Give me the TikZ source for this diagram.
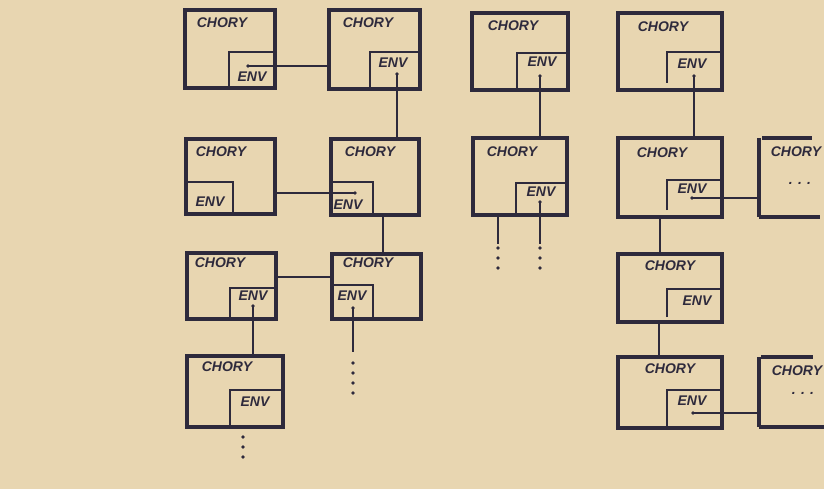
\documentclass[tikz,border=0pt]{standalone}
\usepackage{fontspec}
\setmainfont{Liberation Sans}
\definecolor{bg}{RGB}{232,214,177}
\definecolor{ink}{RGB}{46,42,60}
\begin{document}
\begin{tikzpicture}[x=1pt,y=-1pt,
  box/.style={draw=ink, line width=3.2pt, inner sep=0pt, outer sep=0pt, anchor=north west},
  ghost/.style={inner sep=0pt, outer sep=0pt, anchor=north west},
  envl/.style={draw=ink, line width=2.6pt},
  conn/.style={draw=ink, line width=1.6pt},
  edge/.style={draw=ink, line width=3.2pt},
  lab/.style={text=ink, font=\fontsize{14}{14}\selectfont\bfseries\itshape, inner sep=0pt},
  blob/.style={fill=ink, draw=none, circle, minimum size=3.6pt, inner sep=0pt}]
\fill[bg] (0,0) rectangle (824,489);
\useasboundingbox (0,0) rectangle (824,489);

% ---- column 1 / 2 ----
\node[box, minimum width=90pt, minimum height=78pt] (A1) at (185,10) {};
\draw[envl] (229,88) |- (275,52);
\node[lab] (A1c) at (222,23) {CHORY};
\node[lab] (A1v) at (252,77) {ENV};
\node[blob] (A1d) at (248,66) {};

\node[box, minimum width=91pt, minimum height=79pt] (A2) at (329,10) {};
\draw[envl] (370,89) |- (420,52);
\node[lab] (A2c) at (368,23) {CHORY};
\node[lab] (A2v) at (393,63) {ENV};
\node[blob] (A2d) at (397,74) {};

\node[box, minimum width=89pt, minimum height=75pt] (B1) at (186,139) {};
\draw[envl] (186,182) -| (233,214);
\node[lab] (B1c) at (221,152) {CHORY};
\node[lab] (B1v) at (210,202) {ENV};

\node[box, minimum width=88pt, minimum height=76pt] (B2) at (331,139) {};
\draw[envl] (331,182) -| (373,215);
\node[lab] (B2c) at (370,152) {CHORY};
\node[lab] (B2v) at (348,205) {ENV};
\node[blob] (B2d) at (355,193) {};

\node[box, minimum width=89pt, minimum height=66pt] (C1) at (187,253) {};
\draw[envl] (230,319) |- (276,288);
\node[lab] (C1c) at (220,263) {CHORY};
\node[lab] (C1v) at (253,296) {ENV};
\node[blob] (C1d) at (253,306) {};

\node[box, minimum width=89pt, minimum height=65pt] (C2) at (332,254) {};
\draw[envl] (332,285) -| (373,319);
\node[lab] (C2c) at (368,263) {CHORY};
\node[lab] (C2v) at (352,296) {ENV};
\node[blob] (C2d) at (353,308) {};

\node[box, minimum width=96pt, minimum height=71pt] (D1) at (187,356) {};
\draw[envl] (230,427) |- (283,390);
\node[lab] (D1c) at (227,367) {CHORY};
\node[lab] (D1v) at (255,402) {ENV};

% ---- column 3 ----
\node[box, minimum width=96pt, minimum height=77pt] (E1) at (472,13) {};
\draw[envl] (517,90) |- (568,53);
\node[lab] (E1c) at (513,26) {CHORY};
\node[lab] (E1v) at (542,62) {ENV};
\node[blob] (E1d) at (540,76) {};

\node[box, minimum width=94pt, minimum height=77pt] (E2) at (473,138) {};
\draw[envl] (516,215) |- (567,183);
\node[lab] (E2c) at (512,152) {CHORY};
\node[lab] (E2v) at (541,192) {ENV};
\node[blob] (E2d) at (540,202) {};

% ---- column 4 ----
\node[box, minimum width=104pt, minimum height=77pt] (F1) at (618,13) {};
\draw[envl] (667,83) |- (722,52);
\node[lab] (F1c) at (663,27) {CHORY};
\node[lab] (F1v) at (692,64) {ENV};
\node[blob] (F1d) at (694,76) {};

\node[box, minimum width=104pt, minimum height=79pt] (F2) at (618,138) {};
\draw[envl] (667,210) |- (722,180);
\node[lab] (F2c) at (662,153) {CHORY};
\node[lab] (F2v) at (692,189) {ENV};
\node[blob] (F2d) at (692,198) {};

\node[box, minimum width=104pt, minimum height=68pt] (H1) at (618,254) {};
\draw[envl] (667,317) |- (722,289);
\node[lab] (H1c) at (670,266) {CHORY};
\node[lab] (H1v) at (697,301) {ENV};

\node[box, minimum width=104pt, minimum height=71pt] (H2) at (618,357) {};
\draw[envl] (667,428) |- (722,390);
\node[lab] (H2c) at (670,369) {CHORY};
\node[lab] (H2v) at (692,401) {ENV};
\node[blob] (H2d) at (693,413) {};

% ---- partial boxes on the right ----
\node[ghost, minimum width=61pt, minimum height=79pt] (G1) at (759,138) {};
\draw[edge] (G1.north west) -- (G1.south west);
\draw[edge] ([xshift=3pt]G1.north west) -- ([xshift=-8pt]G1.north east);
\draw[edge] (G1.south west) -- (G1.south east);
\node[lab] (G1c) at (796,152) {CHORY};
\node[lab] (G1v) at (800,183) {. . .};

\node[ghost, minimum width=65pt, minimum height=70pt] (G2) at (759,357) {};
\draw[edge] (G2.north west) -- (G2.south west);
\draw[edge] ([xshift=2pt]G2.north west) -- ([xshift=-11pt]G2.north east);
\draw[edge] (G2.south west) -- (G2.south east);
\node[lab] (G2c) at (797,371) {CHORY};
\node[lab] (G2v) at (803,393) {. . .};

% ---- connectors ----
\draw[conn] (A1d.center) -- (A1d.center -| A2.west);
\draw[conn] (A2d.center) -- (A2d.center |- B2.north);
\draw[conn] (B1.east |- B2d.center) -- (B2d.center);
\draw[conn] ([xshift=8pt]B2.south) -- ([xshift=8pt]B2.south |- C2.north);
\draw[conn] (C1.east |- 0,277) -- (C2.west |- 0,277);
\draw[conn] (C1d.center) -- (C1d.center |- D1.north);
\draw[conn] (E1d.center) -- (E1d.center |- E2.north);
\draw[conn] (F1d.center) -- (F1d.center |- F2.north);
\draw[conn] (F2d.center) -- (F2d.center -| G1.west);
\draw[conn] ([xshift=-10pt]F2.south) -- ([xshift=-10pt]F2.south |- H1.north);
\draw[conn] ([xshift=-11pt]H1.south) -- ([xshift=-11pt]H1.south |- H2.north);
\draw[conn] (H2d.center) -- (H2d.center -| G2.west);

% ---- open ends with dots ----
\coordinate (C2e) at (353,352);
\draw[conn] (C2d.center) -- (C2e);
\foreach \y in {363,373,383,393} \node[blob] at (353,\y) {};
\foreach \y in {437,447,457} \node[blob] at (243,\y) {};
\coordinate (E2e) at (540,244);
\coordinate (E2l) at (498,244);
\draw[conn] (E2d.center) -- (E2e);
\draw[conn] (E2l |- E2.south) -- (E2l);
\foreach \y in {248,258,268} {\node[blob] at (540,\y) {}; \node[blob] at (498,\y) {};}
\end{tikzpicture}
\end{document}
